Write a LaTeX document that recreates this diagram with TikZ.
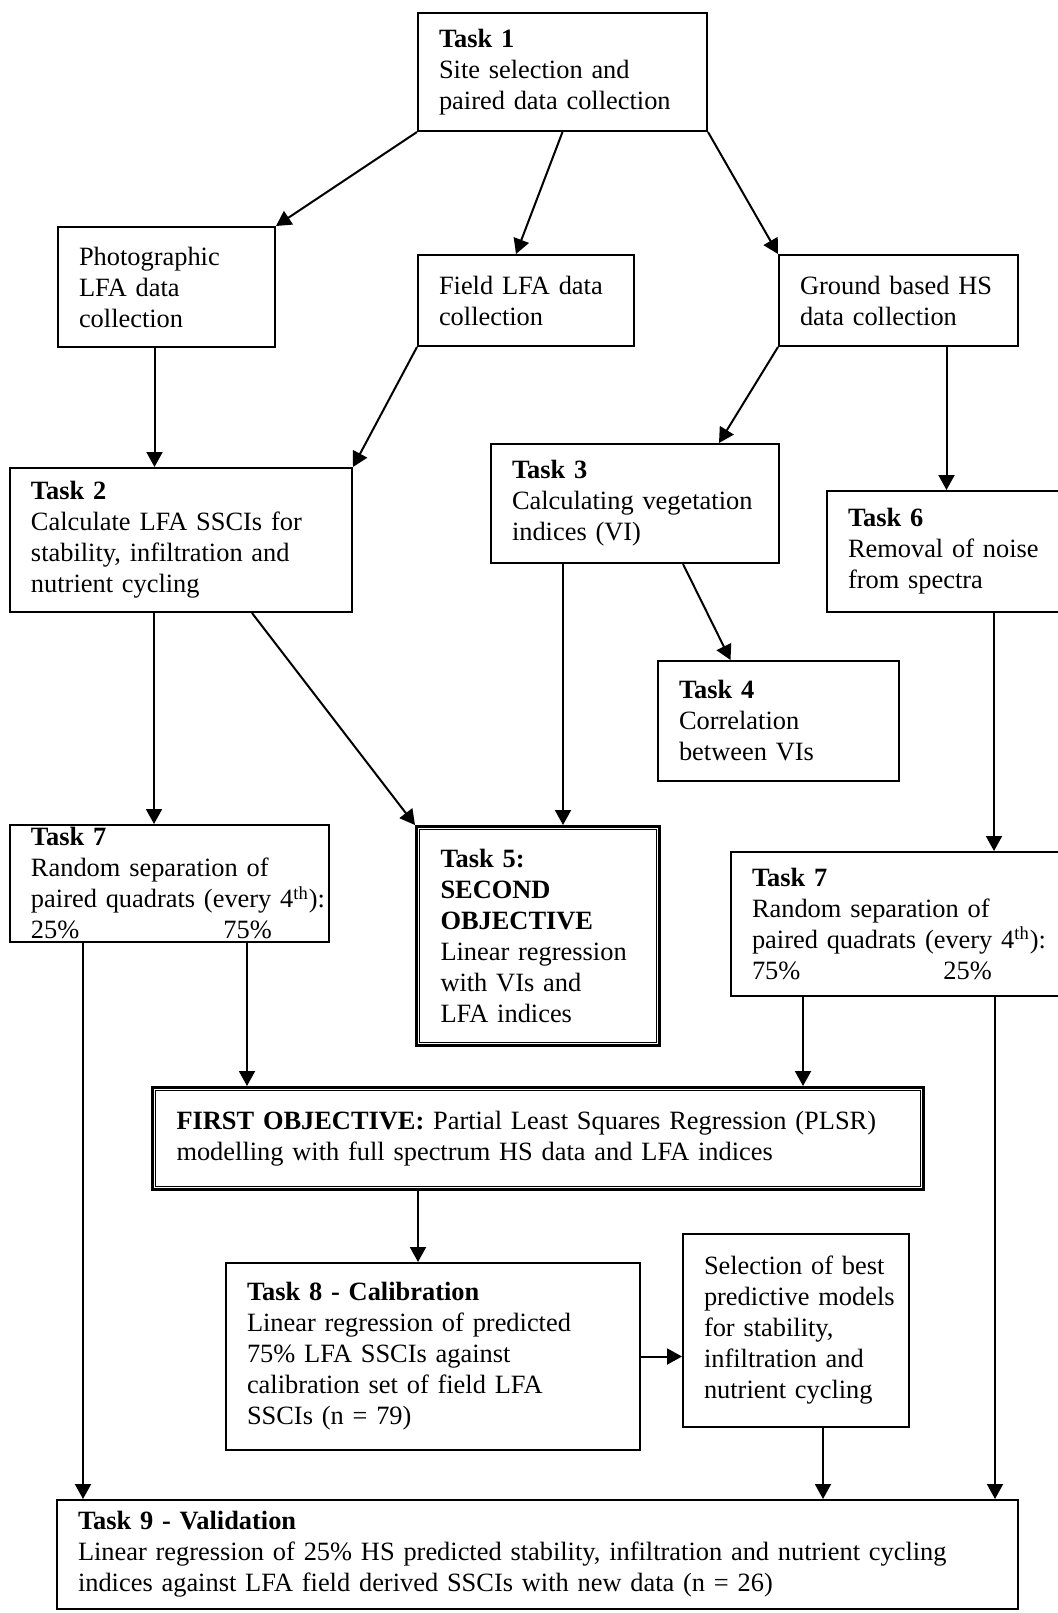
\documentclass[tikz,border=0pt]{standalone}
\usepackage{fontspec}
\setmainfont{Liberation Serif}
\usetikzlibrary{arrows.meta, calc}

\begin{document}
\begin{tikzpicture}[x=0.5pt, y=-0.5pt,
  box/.style={rectangle, draw, line width=1pt, align=left, inner xsep=10.5pt, inner ysep=4pt, font=\fontsize{13.2}{15.5}\selectfont},
  objbox/.style={box, line width=1.5pt, inner xsep=12pt},
  rim/.style={line width=0.6pt},
  arrow/.style={-{Triangle[length=7.5pt, width=8pt]}, line width=1pt}
]
\useasboundingbox (0,0) rectangle (1057,1613);

% Task 1 and data collection
\node[box, text width=123.5pt, minimum height=59pt] (t1) at (562.5,72) {\textbf{Task 1}\\Site selection and\\paired data collection};
\node[box, text width=87.5pt, minimum height=60pt] (photo) at (166.5,287) {Photographic\\LFA data\\collection};
\node[box, text width=87pt, minimum height=45.5pt] (field) at (526,300.5) {Field LFA data\\collection};
\node[box, text width=98.5pt, minimum height=45.5pt] (ground) at (898.5,300.5) {Ground based HS\\data collection};

\draw[arrow] (t1.south west) -- (photo.north east);
\draw[arrow] (t1.south) -- ([xshift=-5pt]field.north);
\draw[arrow] (t1.south east) -- (ground.north west);

% Tasks 2, 3, 4, 6
\node[box, text width=150pt, minimum height=72pt] (t2) at (181,540) {\textbf{Task 2}\\Calculate LFA SSCIs for\\stability, infiltration and\\nutrient cycling};
\node[box, text width=123pt, minimum height=59.5pt] (t3) at (635,503.5) {\textbf{Task 3}\\Calculating vegetation\\indices (VI)};
\node[box, text width=98pt, minimum height=60.5pt] (t6) at (946,551.5) {\textbf{Task 6}\\Removal of noise\\from spectra};
\node[box, text width=99.5pt, minimum height=60pt] (t4) at (778.5,721) {\textbf{Task 4}\\Correlation\\between VIs};

\draw[arrow] ([xshift=-6pt]photo.south) -- ([xshift=-6pt]photo.south |- t2.north);
\draw[arrow] (field.south west) -- (t2.north east);
\draw[arrow] (ground.south west) -- ([xshift=42pt]t3.north);
\draw[arrow] ([xshift=24pt]ground.south) -- ([xshift=24pt]ground.south |- t6.north);
\draw[arrow] ([xshift=24pt]t3.south) -- ([xshift=-24pt]t4.north);

% Tasks 7 and second objective
\node[box, inner ysep=1pt, text width=138.5pt, minimum height=58.5pt] (t7l) at (169.5,883.5) {\textbf{Task 7}\\Random separation of\\\mbox{paired quadrats (every 4\smash{\textsuperscript{th}}):}\\25\%\hspace{72pt}75\%};
\node[objbox, text width=97.5pt, minimum height=109.5pt] (t5) at (538,936) {\textbf{Task 5:}\\\textbf{SECOND}\\\textbf{OBJECTIVE}\\Linear regression\\with VIs and\\LFA indices};
\node[box, text width=146pt, minimum height=72pt] (t7r) at (898,924) {\textbf{Task 7}\\Random separation of\\\mbox{paired quadrats (every 4\smash{\textsuperscript{th}}):}\\75\%\hspace{71.5pt}25\%};
\draw[rim] ([shift={(2.4pt,-2.4pt)}]t5.north west) rectangle ([shift={(-2.4pt,2.4pt)}]t5.south east);

\draw[arrow] ([xshift=-13.5pt]t2.south) -- ([xshift=-13.5pt]t2.south |- t7l.north);
\draw[arrow] ([xshift=35.5pt]t2.south) -- (t5.north west);
\draw[arrow] ([xshift=-36pt]t3.south) -- ([xshift=-36pt]t3.south |- t5.north);
\draw[arrow] ([xshift=24pt]t6.south) -- ([xshift=24pt]t6.south |- t7r.north);

% First objective, calibration, validation
\node[objbox, text width=361.5pt, minimum height=51pt] (first) at (538,1138.5) {\textbf{FIRST OBJECTIVE:} Partial Least Squares Regression (PLSR)\\modelling with full spectrum HS data and LFA indices};
\draw[rim] ([shift={(2.4pt,-2.4pt)}]first.north west) rectangle ([shift={(-2.4pt,2.4pt)}]first.south east);
\node[box, text width=186pt, minimum height=93.5pt] (t8) at (433,1356.5) {\textbf{Task 8 - Calibration}\\Linear regression of predicted\\75\% LFA SSCIs against\\calibration set of field LFA\\SSCIs (n = 79)};
\node[box, text width=92pt, minimum height=96.5pt] (sel) at (796,1330.5) {Selection of best\\\mbox{predictive models}\\for stability,\\infiltration and\\nutrient cycling};
\node[box, text width=459.5pt, minimum height=54.5pt] (t9) at (537.5,1554.5) {\textbf{Task 9 - Validation}\\Linear regression of 25\% HS predicted stability, infiltration and nutrient cycling\\indices against LFA field derived SSCIs with new data (n = 26)};

\draw[arrow] ([xshift=38.75pt]t7l.south) -- ([xshift=38.75pt]t7l.south |- first.north);
\draw[arrow] ([xshift=-47.5pt]t7r.south) -- ([xshift=-47.5pt]t7r.south |- first.north);
\draw[arrow] ([xshift=-43.25pt]t7l.south) -- ([xshift=-43.25pt]t7l.south |- t9.north);
\draw[arrow] ([xshift=48.5pt]t7r.south) -- ([xshift=48.5pt]t7r.south |- t9.north);
\draw[arrow] ([xshift=-60pt]first.south) -- ([xshift=-60pt]first.south |- t8.north);
\draw[arrow] (t8.east) -- (t8.east -| sel.west);
\draw[arrow] ([xshift=13.5pt]sel.south) -- ([xshift=13.5pt]sel.south |- t9.north);
\end{tikzpicture}
\end{document}
